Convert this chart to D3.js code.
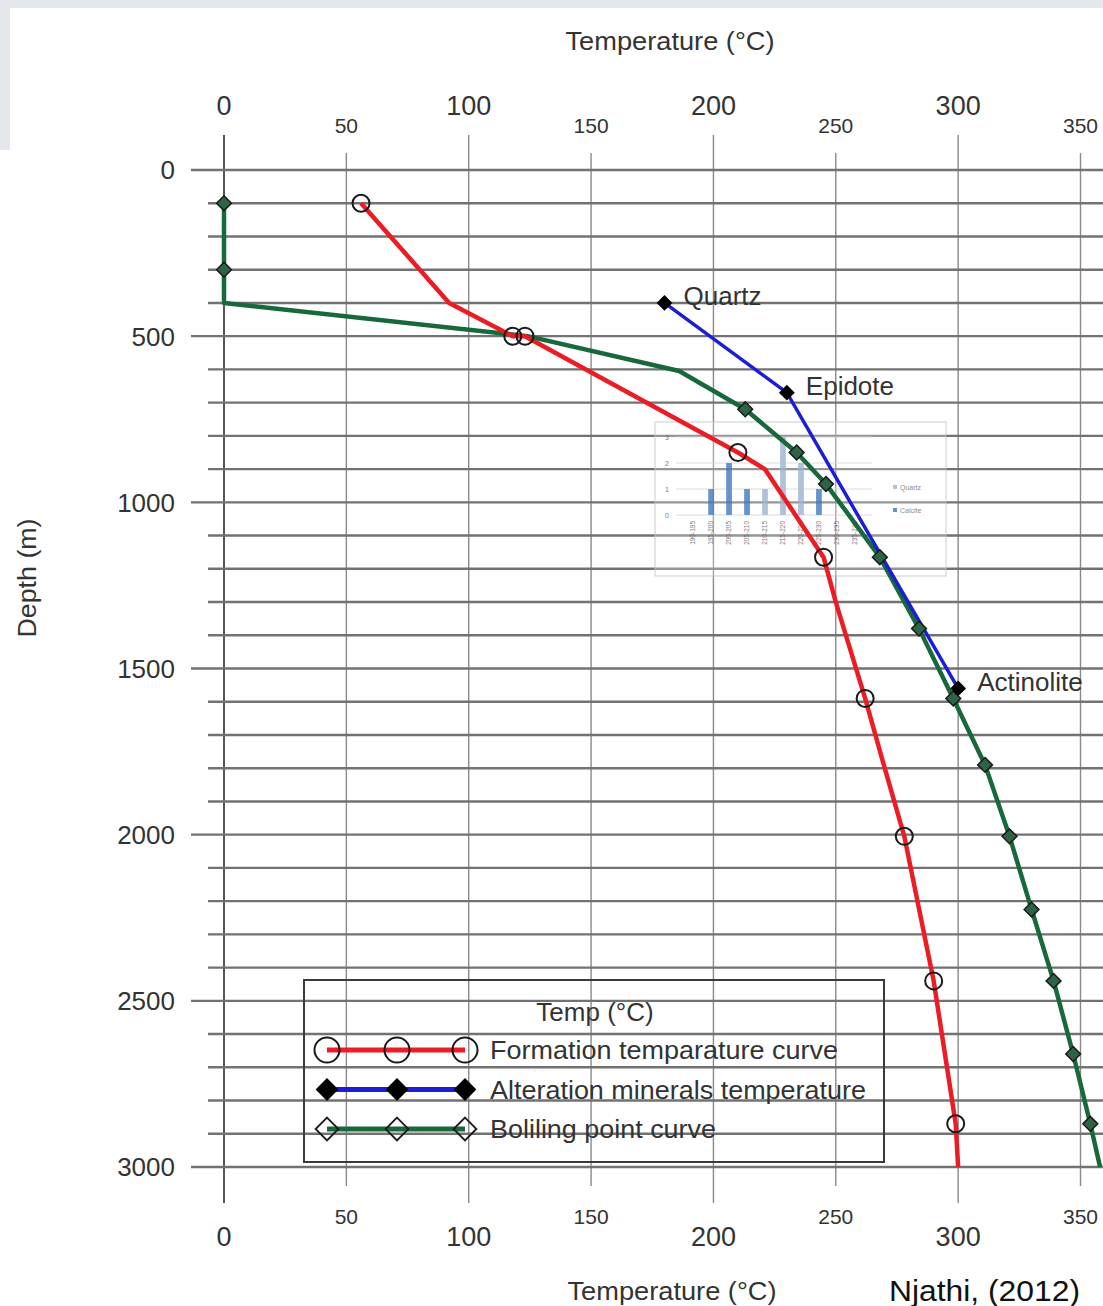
<!DOCTYPE html>
<html>
<meta charset="utf-8">
<style>
    body { margin: 0; background: #fff; }
    svg text { font-family: 'Liberation Sans', Arial, sans-serif; fill: #333; }
</style>
<body>
<svg id="chart" width="1103" height="1306"></svg>
<script src="https://cdnjs.cloudflare.com/ajax/libs/d3/7.8.5/d3.min.js"></script>
<script>
// ---- data ----
const tempMajorTicks = [0, 100, 200, 300];
const tempMinorTicks = [50, 150, 250, 350];
const depthTicks = [0, 500, 1000, 1500, 2000, 2500, 3000];

// formation temperature curve (red, open circles)
const formationTemp   = [56, 92, 118, 123, 210, 221, 245, 250, 262, 270, 278, 290, 299, 300];
const formationDepth  = [100, 400, 500, 500, 850, 900, 1165, 1300, 1590, 1800, 2005, 2440, 2870, 3000];
const formationMarker = [1, 0, 1, 1, 1, 0, 1, 0, 1, 0, 1, 1, 1, 0];

// alteration minerals temperature (blue, black diamonds)
const mineralNames   = ["Quartz", "Epidote", "Actinolite"];
const mineralTemp    = [180, 230, 300];
const mineralDepth   = [400, 670, 1560];

// boiling point curve (green, open diamonds)
const boilingTemp   = [0, 0, 0, 124, 186, 213, 234, 246, 268, 284, 298, 311, 321, 330, 339, 347, 354, 358];
const boilingDepth  = [100, 300, 400, 500, 605, 720, 850, 945, 1165, 1380, 1590, 1790, 2005, 2225, 2440, 2660, 2870, 3000];
const boilingMarker = [1, 1, 0, 0, 0, 1, 1, 1, 1, 1, 1, 1, 1, 1, 1, 1, 1, 0];

// small pasted histogram inset
const insetCategories = ["190-195", "195-200", "200-205", "205-210", "210-215", "215-220", "220-225", "225-230", "230-235", "235-240"];
const quartzCounts  = [0, 0, 0, 0, 1, 3, 2, 0, 0, 0];
const calciteCounts = [0, 1, 2, 1, 0, 0, 0, 1, 0, 0];
const insetTicks = [0, 1, 2, 3];

const legendLabels = ["Formation temparature curve", "Alteration minerals temperature", "Boliling point curve"];
const legendWidths = [348, 376, 226];

// ---- layout ----
const svg = d3.select("#chart");
const red = "#ec1c24", blue = "#1d1dd6", green = "#17683a";

const x = d3.scaleLinear().domain([0, 350]).range([224, 1080.5]);
const y = d3.scaleLinear().domain([0, 3000]).range([170, 1167]);

// scanned-page border
svg.append("rect").attr("x", 0).attr("y", 0).attr("width", 1103).attr("height", 8).attr("fill", "#e4e7eb");
svg.append("rect").attr("x", 0).attr("y", 0).attr("width", 10).attr("height", 150).attr("fill", "#e4e7eb");

// vertical grid
const vgrid = svg.append("g");
vgrid.selectAll("line")
    .data(tempMajorTicks.concat(tempMinorTicks))
    .enter().append("line")
    .attr("x1", d => x(d)).attr("x2", d => x(d))
    .attr("y1", d => d % 100 === 0 ? 135 : 153)
    .attr("y2", d => d % 100 === 0 ? 1203 : 1186)
    .attr("stroke", d => d === 0 ? "#555" : "#8a8a8a")
    .attr("stroke-width", d => d === 0 ? 2 : 1.4);

// horizontal grid every 100 m
const hgrid = svg.append("g");
hgrid.selectAll("line")
    .data(d3.range(0, 3001, 100))
    .enter().append("line")
    .attr("x1", d => d % 500 === 0 ? 191 : 208)
    .attr("x2", 1103)
    .attr("y1", d => y(d)).attr("y2", d => y(d))
    .attr("stroke", "#727272")
    .attr("stroke-width", 2.4);

// depth labels
svg.append("g").selectAll("text")
    .data(depthTicks)
    .enter().append("text")
    .attr("x", 175).attr("y", d => y(d))
    .attr("dy", "0.36em")
    .attr("text-anchor", "end")
    .style("font-size", "26px")
    .text(d => d);

// temperature labels top and bottom
const tempLabels = (ticks, ty, size) => {
    svg.append("g").selectAll("text")
        .data(ticks)
        .enter().append("text")
        .attr("x", d => x(d)).attr("y", ty)
        .attr("dy", "0.36em")
        .attr("text-anchor", "middle")
        .style("font-size", size)
        .text(d => d);
};
tempLabels(tempMajorTicks, 105, "27px");
tempLabels(tempMinorTicks, 125, "21px");
tempLabels(tempMinorTicks, 1216, "21px");
tempLabels(tempMajorTicks, 1236, "27px");

svg.append("text").attr("x", 670).attr("y", 41).attr("dy", "0.36em")
    .attr("text-anchor", "middle").style("font-size", "26px")
    .attr("textLength", 209).attr("lengthAdjust", "spacingAndGlyphs")
    .text("Temperature (°C)");
svg.append("text").attr("x", 672).attr("y", 1291).attr("dy", "0.36em")
    .attr("text-anchor", "middle").style("font-size", "26px")
    .attr("textLength", 209).attr("lengthAdjust", "spacingAndGlyphs")
    .text("Temperature (°C)");
svg.append("text").attr("transform", "translate(27,578) rotate(-90)")
    .attr("dy", "0.36em").attr("text-anchor", "middle").style("font-size", "25px")
    .attr("textLength", 119).attr("lengthAdjust", "spacingAndGlyphs")
    .text("Depth (m)");
svg.append("text").attr("x", 1080).attr("y", 1290).attr("dy", "0.36em")
    .attr("text-anchor", "end").style("font-size", "30px").style("fill", "#111")
    .attr("textLength", 191).attr("lengthAdjust", "spacingAndGlyphs")
    .text("Njathi, (2012)");

// ---- inset histogram (faded picture) ----
const inset = svg.append("g").attr("opacity", 0.85);
inset.append("rect").attr("x", 655).attr("y", 422).attr("width", 291).attr("height", 154)
    .attr("fill", "#fff").attr("fill-opacity", 0.3).attr("stroke", "#c4c4c4");
const ix = d3.scaleBand().domain(insetCategories).range([678, 870]).padding(0.68);
const iy = d3.scaleLinear().domain([0, 3]).range([515, 437]);
inset.selectAll(".igrid").data(insetTicks).enter().append("line")
    .attr("x1", 676).attr("x2", 872).attr("y1", d => iy(d)).attr("y2", d => iy(d))
    .attr("stroke", "#d8d8d8").attr("stroke-width", 1);
inset.selectAll(".itick").data(insetTicks).enter().append("text")
    .attr("x", 667).attr("y", d => iy(d)).attr("dy", "0.36em")
    .attr("text-anchor", "middle").style("font-size", "7px").style("fill", "#666").text(d => d);
inset.selectAll(".qbar").data(insetCategories).enter().append("rect")
    .attr("x", d => ix(d)).attr("width", ix.bandwidth())
    .attr("y", (d, i) => iy(quartzCounts[i])).attr("height", (d, i) => iy(0) - iy(quartzCounts[i]))
    .attr("fill", "#a3b8d3");
inset.selectAll(".cbar").data(insetCategories).enter().append("rect")
    .attr("x", d => ix(d)).attr("width", ix.bandwidth())
    .attr("y", (d, i) => iy(calciteCounts[i])).attr("height", (d, i) => iy(0) - iy(calciteCounts[i]))
    .attr("fill", "#4a82c0");
inset.selectAll(".ilab").data(insetCategories).enter().append("text")
    .attr("transform", d => "translate(" + (ix(d) + ix.bandwidth() / 2) + ",521) rotate(-90)")
    .attr("dy", "0.36em").attr("text-anchor", "end")
    .style("font-size", "6.5px").style("fill", "#666").text(d => d);
[["Quartz", "#a3b8d3", 487], ["Calcite", "#4a82c0", 510]].forEach(([name, col, ly]) => {
    inset.append("rect").attr("x", 893).attr("y", ly - 2).attr("width", 4).attr("height", 4).attr("fill", col);
    inset.append("text").attr("x", 900).attr("y", ly).attr("dy", "0.36em")
        .style("font-size", "7px").style("fill", "#777").text(name);
});

// ---- series ----
const line = d3.line().x(d => x(d[0])).y(d => y(d[1]));
const formationPts = formationTemp.map((t, i) => [t, formationDepth[i], formationMarker[i]]);
const boilingPts = boilingTemp.map((t, i) => [t, boilingDepth[i], boilingMarker[i]]);
const mineralPts = mineralTemp.map((t, i) => [t, mineralDepth[i], mineralNames[i]]);

const diamond = d3.symbol().type(d3.symbolDiamond2);

svg.append("path").datum(boilingPts).attr("d", line)
    .attr("fill", "none").attr("stroke", green).attr("stroke-width", 4.5).attr("stroke-linejoin", "round");
svg.append("path").datum(formationPts).attr("d", line)
    .attr("fill", "none").attr("stroke", red).attr("stroke-width", 4.5).attr("stroke-linejoin", "round");
svg.append("path").datum(mineralPts).attr("d", line)
    .attr("fill", "none").attr("stroke", blue).attr("stroke-width", 3.5);

svg.append("g").selectAll("path")
    .data(boilingPts.filter(d => d[2]))
    .enter().append("path")
    .attr("transform", d => "translate(" + x(d[0]) + "," + y(d[1]) + ")")
    .attr("d", diamond.size(140)())
    .attr("fill", "#2e6446").attr("stroke", "#1a1a1a").attr("stroke-width", 1.5);

svg.append("g").selectAll("circle")
    .data(formationPts.filter(d => d[2]))
    .enter().append("circle")
    .attr("cx", d => x(d[0])).attr("cy", d => y(d[1])).attr("r", 8.5)
    .attr("fill", "none").attr("stroke", "#1a1a1a").attr("stroke-width", 2);

svg.append("g").selectAll("path")
    .data(mineralPts)
    .enter().append("path")
    .attr("transform", d => "translate(" + x(d[0]) + "," + y(d[1]) + ")")
    .attr("d", diamond.size(160)())
    .attr("fill", "#000");

svg.append("g").selectAll("text")
    .data(mineralPts)
    .enter().append("text")
    .attr("x", d => x(d[0]) + 19).attr("y", d => y(d[1]) - 7)
    .attr("dy", "0.36em")
    .style("font-size", "26px")
    .text(d => d[2]);

// ---- legend ----
const legend = svg.append("g");
legend.append("rect").attr("x", 304).attr("y", 980).attr("width", 580).attr("height", 182)
    .attr("fill", "none").attr("stroke", "#3a3a3a").attr("stroke-width", 2);
legend.append("text").attr("x", 595).attr("y", 1012).attr("dy", "0.36em")
    .attr("text-anchor", "middle").style("font-size", "26px").text("Temp (°C)");

const legendRows = [
    { color: red, marker: "circle" },
    { color: blue, marker: "filled" },
    { color: green, marker: "open" }
];
const legendMarkX = [327, 397, 465];
legendRows.forEach((r, i) => {
    const ly = 1050 + i * 39.5;
    legend.append("line").attr("x1", 327).attr("x2", 465).attr("y1", ly).attr("y2", ly)
        .attr("stroke", r.color).attr("stroke-width", 5);
    legendMarkX.forEach(mx => {
        if (r.marker === "circle") {
            legend.append("circle").attr("cx", mx).attr("cy", ly).attr("r", 12.5)
                .attr("fill", "none").attr("stroke", "#1a1a1a").attr("stroke-width", 2);
        } else {
            legend.append("path").attr("transform", "translate(" + mx + "," + ly + ")")
                .attr("d", diamond.size(330)())
                .attr("fill", r.marker === "filled" ? "#000" : "none")
                .attr("stroke", "#1a1a1a").attr("stroke-width", r.marker === "filled" ? 0 : 1.8);
        }
    });
    legend.append("text").attr("x", 490).attr("y", ly).attr("dy", "0.36em")
        .style("font-size", "26px")
        .attr("textLength", legendWidths[i]).attr("lengthAdjust", "spacingAndGlyphs")
        .text(legendLabels[i]);
});
</script>
</body>
</html>
